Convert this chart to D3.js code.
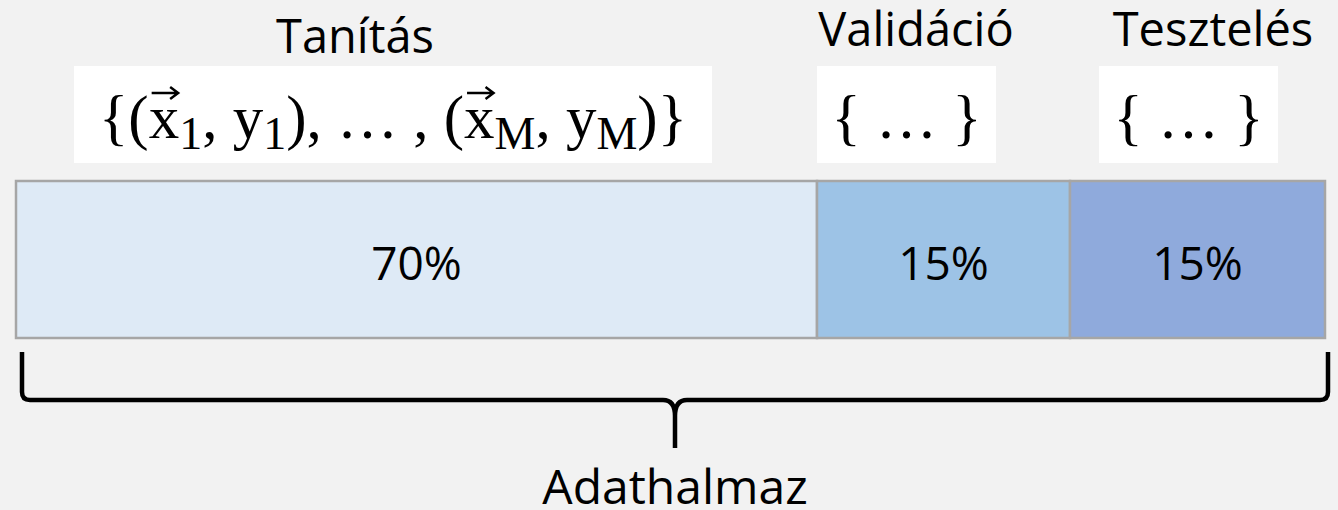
<!DOCTYPE html>
<html lang="hu">
  <head>
    <meta charset="UTF-8" />
    <script src="https://d3js.org/d3.v7.min.js"></script>
    <title>Adathalmaz felosztása</title>
    <style type="text/css">
      body { margin: 0; background: #f2f2f2; }
      text { font-family: 'Open Sans', sans-serif; fill: #000; }
      .math { font-family: 'Liberation Serif', 'DejaVu Serif', serif; }
    </style>
  </head>
  <body>
    <svg width="1338" height="510"></svg>
  </body>
  <script type="text/javascript">
    // data
    const parts = ['Tanítás', 'Validáció', 'Tesztelés'];
    const shares = [70, 15, 15];
    const colors = ['#deeaf6', '#9dc3e6', '#8faadc'];
    const totalLabel = 'Adathalmaz';
    // set notation shown above each part
    const formula = [
      { t: '{(' }, { t: 'x', vec: true }, { t: '1', sub: true }, { t: ', y' }, { t: '1', sub: true },
      { t: '), … , (' }, { t: 'x', vec: true }, { t: 'M', sub: true }, { t: ', y' }, { t: 'M', sub: true },
      { t: ')}' }
    ];
    const ellipsis = [{ t: '{ … }' }];
    const setTexts = [formula, ellipsis, ellipsis];

    // layout
    const svg = d3.select('svg');
    const barTop = 181, barBottom = 338;

    // cumulative shares -> x (the picture does not draw widths proportionally)
    const cum = [0];
    shares.forEach((s) => cum.push(cum[cum.length - 1] + s));
    const x = d3.scaleLinear().domain(cum).range([16, 817, 1070, 1325]);

    const segs = parts.map((p, i) => ({ part: p, share: shares[i], x0: cum[i], x1: cum[i + 1], color: colors[i] }));

    // bars
    svg.selectAll('.seg')
      .data(segs)
      .join('rect')
      .attr('class', 'seg')
      .attr('x', (d) => x(d.x0))
      .attr('y', barTop)
      .attr('width', (d) => x(d.x1) - x(d.x0))
      .attr('height', barBottom - barTop)
      .attr('fill', (d) => d.color)
      .attr('stroke', '#a6a6a6')
      .attr('stroke-width', 2.5);

    svg.selectAll('.pct')
      .data(segs)
      .join('text')
      .attr('class', 'pct')
      .attr('x', (d) => (x(d.x0) + x(d.x1)) / 2)
      .attr('y', 280)
      .attr('text-anchor', 'middle')
      .attr('font-size', '46px')
      .text((d) => d.share + '%');

    // headers: title + white box with set notation
    const headers = [
      { title: 355, ty: 53, box: [74, 712] },
      { title: 916, ty: 46, box: [817, 996] },
      { title: 1213, ty: 46, box: [1099, 1278] }
    ];

    svg.selectAll('.title')
      .data(segs)
      .join('text')
      .attr('class', 'title')
      .attr('x', (d, i) => headers[i].title)
      .attr('y', (d, i) => headers[i].ty)
      .attr('text-anchor', 'middle')
      .attr('font-size', '47px')
      .text((d) => d.part);

    svg.selectAll('.box')
      .data(segs)
      .join('rect')
      .attr('class', 'box')
      .attr('x', (d, i) => headers[i].box[0])
      .attr('y', 66)
      .attr('width', (d, i) => headers[i].box[1] - headers[i].box[0])
      .attr('height', 97)
      .attr('fill', '#fff');

    setTexts.forEach((pieces, i) => {
      const cx = (headers[i].box[0] + headers[i].box[1]) / 2;
      const t = svg.append('text')
        .attr('class', 'math')
        .attr('x', cx)
        .attr('y', 138)
        .attr('text-anchor', 'middle')
        .attr('font-size', '61px');
      let sub = false;
      pieces.forEach((p) => {
        const ts = t.append('tspan').text(p.t);
        if (p.sub && !sub) { ts.attr('dy', 11).attr('font-size', '46px'); sub = true; }
        else if (!p.sub && sub) { ts.attr('dy', -11); sub = false; }
      });
      // arrows above vector x
      let idx = 0;
      pieces.forEach((p) => {
        if (p.vec) {
          const e = t.node().getExtentOfChar(idx);
          const ax0 = e.x + 3, ax1 = e.x + e.width - 1, ay = 93;
          svg.append('path')
            .attr('d', `M${ax0},${ay}H${ax1}M${ax1 - 8},${ay - 6}L${ax1},${ay}L${ax1 - 8},${ay + 6}`)
            .attr('fill', 'none')
            .attr('stroke', '#000')
            .attr('stroke-width', 2.5);
        }
        idx += p.t.length;
      });
    });

    // brace under the whole bar
    const bx0 = 22, bx1 = 1328, by0 = 352, by1 = 400, mid = 675, tip = 448;
    svg.append('path')
      .attr('d', `M${bx0},${by0}V${by1 - 8}Q${bx0},${by1} ${bx0 + 8},${by1}H${mid - 12}Q${mid},${by1} ${mid},${by1 + 16}V${tip}` +
        `M${mid},${by1 + 16}Q${mid},${by1} ${mid + 12},${by1}H${bx1 - 8}Q${bx1},${by1} ${bx1},${by1 - 8}V${by0}`)
      .attr('fill', 'none')
      .attr('stroke', '#000')
      .attr('stroke-width', 4.5);

    svg.append('text')
      .attr('x', mid)
      .attr('y', 504)
      .attr('text-anchor', 'middle')
      .attr('font-size', '48px')
      .text(totalLabel);
  </script>
</html>
